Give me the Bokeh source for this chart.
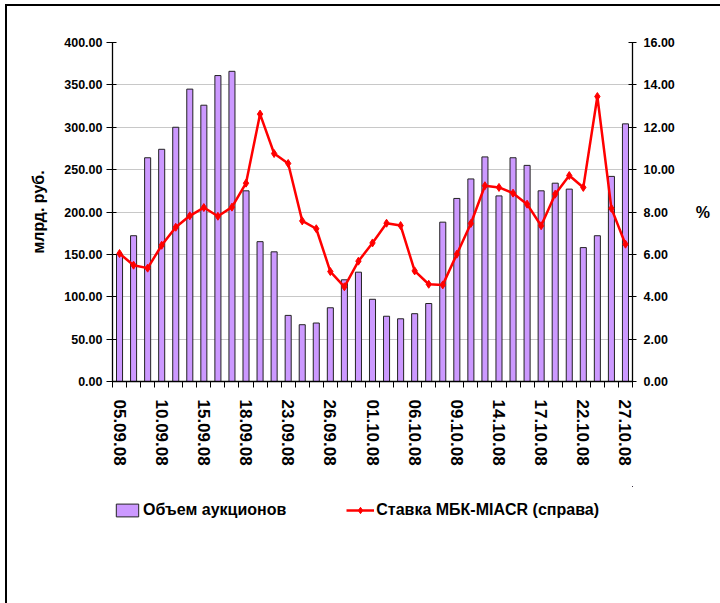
from bokeh.plotting import figure
from bokeh.layouts import column
from bokeh.models import (Range1d, LinearAxis, FixedTicker, NumeralTickFormatter,
                          Legend, LegendItem)
from bokeh.embed import file_html
from bokeh.resources import INLINE

dates = ["05.09.08", "08.09.08", "09.09.08", "10.09.08", "11.09.08", "12.09.08",
         "15.09.08", "16.09.08", "17.09.08", "18.09.08", "19.09.08", "22.09.08",
         "23.09.08", "24.09.08", "25.09.08", "26.09.08", "29.09.08", "30.09.08",
         "01.10.08", "02.10.08", "03.10.08", "06.10.08", "07.10.08", "08.10.08",
         "09.10.08", "10.10.08", "13.10.08", "14.10.08", "15.10.08", "16.10.08",
         "17.10.08", "20.10.08", "21.10.08", "22.10.08", "23.10.08", "24.10.08",
         "27.10.08"]
volume = [150, 172, 264, 274, 300, 345, 326, 361, 366, 225, 165, 153, 78, 67, 69,
          87, 120, 129, 97, 77, 74, 80, 92, 188, 216, 239, 265, 219, 264, 255, 225,
          234, 227, 158, 172, 242, 304]
rate = [6.04, 5.49, 5.35, 6.43, 7.28, 7.82, 8.21, 7.80, 8.23, 9.36, 12.62, 10.76,
        10.29, 7.58, 7.21, 5.19, 4.47, 5.68, 6.54, 7.47, 7.36, 5.22, 4.59, 4.56,
        6.01, 7.46, 9.24, 9.16, 8.89, 8.37, 7.35, 8.84, 9.72, 9.16, 13.45, 8.17, 6.48]
left_ticks = [0, 50, 100, 150, 200, 250, 300, 350, 400]
right_ticks = [0, 2, 4, 6, 8, 10, 12, 14, 16]
label_step = 3
series_names = ["Объем аукционов", "Ставка МБК-MIACR (справа)"]

FONT = "Liberation Sans"
BAR_FILL = "#CC99FF"
BAR_LINE = "#222222"
RED = "#FF0000"
n = len(dates)
xc = [i + 0.5 for i in range(n)]

fig = figure(frame_width=520, frame_height=339, min_border_left=105, min_border_right=88,
             min_border_top=36, min_border_bottom=105, output_backend="svg",
             toolbar_location=None, x_range=Range1d(0, n), y_range=Range1d(0, 400))
fig.outline_line_color = None
fig.background_fill_color = "white"
fig.border_fill_color = "white"
fig.extra_y_ranges = {"right": Range1d(0, 16)}

fig.vbar(x=xc, top=volume, width=0.43, fill_color=BAR_FILL, line_color=BAR_LINE, line_width=1)
fig.line(x=xc, y=rate, y_range_name="right", line_color=RED, line_width=2.5)
fig.scatter(x=xc, y=rate, y_range_name="right", marker="diamond", size=8,
            fill_color=RED, line_color=RED)

# x axis
xa = fig.xaxis[0]
xa.ticker = FixedTicker(ticks=[xc[i] for i in range(0, n, label_step)],
                        minor_ticks=list(range(0, n + 1)))
xa.major_label_overrides = {xc[i]: dates[i] for i in range(0, n, label_step)}
xa.major_tick_out = 0
xa.major_tick_in = 0
xa.minor_tick_out = 6
xa.minor_tick_in = 0
xa.minor_tick_line_color = "black"
xa.major_label_orientation = "vertical"
xa.major_label_standoff = 12
xa.major_label_text_font = FONT
xa.major_label_text_font_style = "bold"
xa.major_label_text_font_size = "17px"
xa.major_label_text_color = "black"
xa.axis_line_color = "black"
xa.axis_line_width = 1.3

# left axis
ya = fig.yaxis[0]
ya.ticker = FixedTicker(ticks=left_ticks)
ya.formatter = NumeralTickFormatter(format="0.00")
ya.major_tick_out = 6
ya.major_tick_in = 4
ya.minor_tick_out = 0
ya.minor_tick_in = 0
ya.major_label_standoff = 4
ya.major_label_text_font = FONT
ya.major_label_text_font_style = "bold"
ya.major_label_text_font_size = "12.5px"
ya.major_label_text_color = "black"
ya.axis_line_color = "black"
ya.axis_line_width = 1.3
ya.axis_label = "млрд. руб."
ya.axis_label_text_font = FONT
ya.axis_label_text_font_style = "bold"
ya.axis_label_text_font_size = "16px"
ya.axis_label_text_color = "black"
ya.axis_label_standoff = 14

ra = LinearAxis(y_range_name="right", ticker=FixedTicker(ticks=right_ticks),
                formatter=NumeralTickFormatter(format="0.00"))
ra.major_tick_out = 4
ra.major_tick_in = 4
ra.minor_tick_out = 0
ra.minor_tick_in = 0
ra.major_label_standoff = 7
ra.major_label_text_font = FONT
ra.major_label_text_font_style = "bold"
ra.major_label_text_font_size = "12.5px"
ra.major_label_text_color = "black"
ra.axis_line_color = "black"
ra.axis_line_width = 1.3
ra.axis_label = "%"
ra.axis_label_orientation = "horizontal"
ra.axis_label_text_font = FONT
ra.axis_label_text_font_style = "bold"
ra.axis_label_text_font_size = "16px"
ra.axis_label_text_color = "black"
ra.axis_label_standoff = 18
fig.add_layout(ra, "right")

fig.xgrid.visible = False
fig.ygrid.ticker = FixedTicker(ticks=left_ticks)
fig.ygrid.grid_line_color = "#C8C8C8"
fig.ygrid.grid_line_width = 1

# legend strip under the chart (its data lies outside its view, only the legend shows)
lf = figure(width=713, height=117, min_border=0, output_backend="svg",
            toolbar_location=None, x_axis_location=None, y_axis_location=None,
            x_range=Range1d(-3, -2), y_range=Range1d(-3, -2))
lf.outline_line_color = None
lf.xgrid.visible = False
lf.ygrid.visible = False
lb = lf.vbar(x=xc, top=volume, width=0.43, fill_color=BAR_FILL, line_color=BAR_LINE,
             line_width=1)
ll = lf.line(x=xc, y=rate, line_color=RED, line_width=2.5)
lm = lf.scatter(x=xc, y=rate, marker="diamond", size=8, fill_color=RED, line_color=RED)

legend = Legend(items=[LegendItem(label=series_names[0], renderers=[lb]),
                       LegendItem(label=series_names[1], renderers=[ll, lm])],
                orientation="horizontal", location=(1, 84.5), margin=0, padding=0,
                spacing=60, glyph_width=28, glyph_height=16, label_standoff=2,
                border_line_color=None, background_fill_alpha=0,
                label_text_font=FONT, label_text_font_style="bold",
                label_text_font_size="16px", label_text_color="black")
lf.add_layout(legend, "center")

p = column(fig, lf, spacing=0)
p.margin = (4, 0, 0, 5)
p.styles = {"border-top": "2px solid black", "border-left": "2px solid black"}

open("out.html", "w").write(file_html(p, INLINE))
